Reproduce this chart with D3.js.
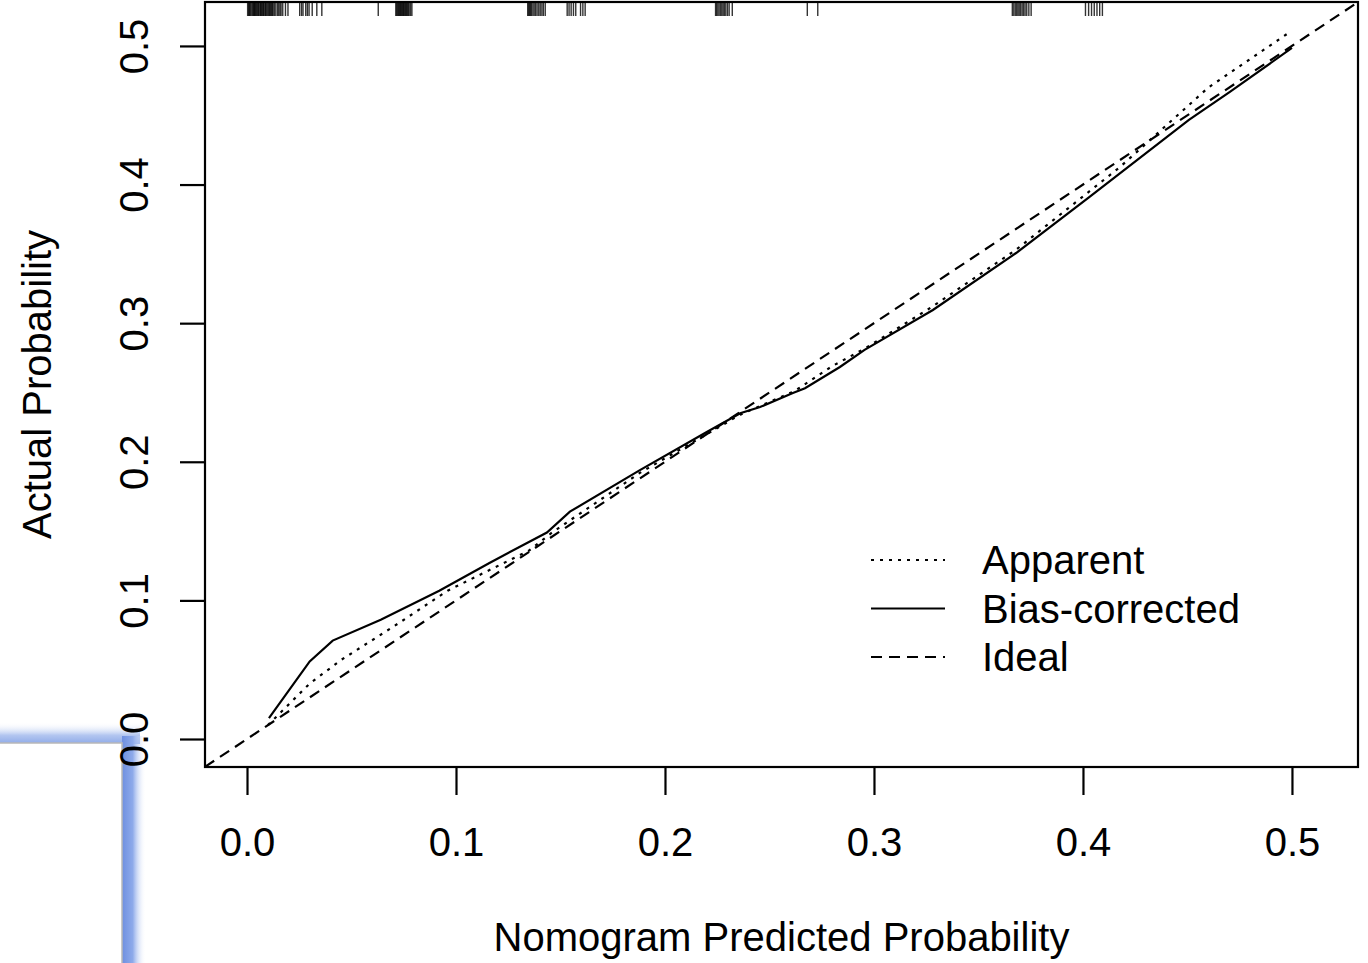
<!DOCTYPE html>
<html>
<head>
<meta charset="utf-8">
<script src="https://cdn.jsdelivr.net/npm/d3@7"></script>
<style>
    html, body { margin: 0; padding: 0; background: #fff; }
    svg { display: block; }
    text { font-family: "Liberation Sans", Arial, sans-serif; fill: #000; }
</style>
</head>
<body>
<div id="root"></div>
<script>
const WIDTH = 1368;
const HEIGHT = 963;
const box = { left: 205, right: 1358, top: 2, bottom: 767 };

// calibration curves: [predicted, actual]
const apparent = [
    [0.010, 0.010], [0.030, 0.040], [0.045, 0.057], [0.070, 0.081], [0.096, 0.107],
    [0.135, 0.136], [0.146, 0.149], [0.188, 0.192], [0.236, 0.234], [0.262, 0.251],
    [0.280, 0.269], [0.296, 0.282], [0.328, 0.312], [0.368, 0.353], [0.418, 0.413],
    [0.460, 0.470], [0.498, 0.509]
];
const biasCorrected = [
    [0.0105, 0.015], [0.030, 0.056], [0.041, 0.071], [0.064, 0.086], [0.092, 0.107],
    [0.116, 0.127], [0.1435, 0.149], [0.1545, 0.164], [0.188, 0.194], [0.220, 0.2215],
    [0.236, 0.235], [0.2455, 0.2395], [0.2612, 0.2496], [0.267, 0.253], [0.2837, 0.2684],
    [0.2955, 0.2807], [0.3282, 0.3095], [0.368, 0.3506], [0.403, 0.391], [0.4507, 0.4466],
    [0.4703, 0.4668], [0.500, 0.4986]
];
// predicted probabilities shown as the rug along the top
const rugValues = [
    0.0003, 0.0008, 0.0011, 0.0015, 0.0019, 0.0024, 0.0028, 0.0032, 0.0035, 0.0038,
    0.0042, 0.0045, 0.0051, 0.0054, 0.0058, 0.0063, 0.0066, 0.0069, 0.0074, 0.0078,
    0.0081, 0.0086, 0.0089, 0.0093, 0.0099, 0.0104, 0.0108, 0.0112, 0.0117, 0.0121,
    0.0125, 0.0131, 0.0138, 0.0146, 0.0152, 0.0158, 0.0163, 0.0171, 0.0184, 0.0196,
    0.0252, 0.0261, 0.0268, 0.0281, 0.0289, 0.0297, 0.0312, 0.0334, 0.0358,
    0.0628,
    0.0712, 0.0716, 0.0721, 0.0725, 0.0729, 0.0733, 0.0736, 0.0740, 0.0744, 0.0748,
    0.0751, 0.0755, 0.0759, 0.0763, 0.0767, 0.0772, 0.0776, 0.0783, 0.0789,
    0.1343, 0.1348, 0.1352, 0.1357, 0.1361, 0.1368, 0.1374, 0.1381, 0.1388, 0.1396,
    0.1403, 0.1411, 0.1418, 0.1427,
    0.1532, 0.1541, 0.1551, 0.1562, 0.1573, 0.1596, 0.1607, 0.1618,
    0.2242, 0.2247, 0.2253, 0.2259, 0.2266, 0.2272, 0.2278, 0.2284, 0.2291, 0.2299,
    0.2307, 0.2322,
    0.2681, 0.2731,
    0.3662, 0.3669, 0.3676, 0.3683, 0.3689, 0.3695, 0.3702, 0.3709, 0.3716, 0.3723,
    0.3731, 0.3741, 0.3752,
    0.4012, 0.4027, 0.4041, 0.4054, 0.4067, 0.4080, 0.4093
];
const ticks = [0.0, 0.1, 0.2, 0.3, 0.4, 0.5];
const legendLabels = ['Apparent', 'Bias-corrected', 'Ideal'];
const xTitle = 'Nomogram Predicted Probability';
const yTitle = 'Actual Probability';

const x = d3.scaleLinear().domain([-0.0201, 0.5316]).range([box.left, box.right]);
const y = d3.scaleLinear().domain([-0.0202, 0.5317]).range([box.bottom, box.top]);
const fmt = d3.format('.1f');

const svg = d3.select('#root').append('svg')
    .attr('width', WIDTH)
    .attr('height', HEIGHT);

const defs = svg.append('defs');
defs.append('clipPath').attr('id', 'plotClip')
    .append('rect')
    .attr('x', box.left).attr('y', box.top)
    .attr('width', box.right - box.left).attr('height', box.bottom - box.top);

const styles = {
    'Apparent': { dash: '3,6' },
    'Bias-corrected': { dash: null },
    'Ideal': { dash: '11,7' }
};

// window frame overlapping the lower-left corner of the picture (drawn first, text sits on it)
const gTop = defs.append('linearGradient').attr('id', 'fadeTop')
    .attr('x1', 0).attr('y1', 0).attr('x2', 0).attr('y2', 1);
gTop.append('stop').attr('offset', '0%').attr('stop-color', '#ffffff').attr('stop-opacity', 0);
gTop.append('stop').attr('offset', '60%').attr('stop-color', '#b3c6f0');
gTop.append('stop').attr('offset', '100%').attr('stop-color', '#8eaae8');
const gRight = defs.append('linearGradient').attr('id', 'fadeRight')
    .attr('x1', 0).attr('y1', 0).attr('x2', 1).attr('y2', 0);
gRight.append('stop').attr('offset', '0%').attr('stop-color', '#6e8fe0');
gRight.append('stop').attr('offset', '45%').attr('stop-color', '#8eaaea');
gRight.append('stop').attr('offset', '100%').attr('stop-color', '#ffffff').attr('stop-opacity', 0);

const frame = svg.append('g');
frame.append('rect')
    .attr('x', 0).attr('y', 722).attr('width', 140).attr('height', 22)
    .attr('fill', 'url(#fadeTop)');
frame.append('rect')
    .attr('x', 122).attr('y', 736).attr('width', 24).attr('height', HEIGHT - 736)
    .attr('fill', 'url(#fadeRight)');
frame.append('rect')
    .attr('x', -2).attr('y', 743).attr('width', 124).attr('height', HEIGHT - 741)
    .attr('fill', '#fff').attr('stroke', '#b8b8b8').attr('stroke-width', 1.5);

const plot = svg.append('g').attr('clip-path', 'url(#plotClip)');

// ideal diagonal across the whole box
plot.append('line')
    .attr('x1', x(x.domain()[0])).attr('y1', y(x.domain()[0]))
    .attr('x2', x(x.domain()[1])).attr('y2', y(x.domain()[1]))
    .attr('stroke', '#000').attr('stroke-width', 2.2)
    .attr('stroke-dasharray', styles['Ideal'].dash);

const line = d3.line().x(d => x(d[0])).y(d => y(d[1]));

plot.append('path')
    .datum(apparent)
    .attr('d', line)
    .attr('fill', 'none').attr('stroke', '#000').attr('stroke-width', 2.2)
    .attr('stroke-dasharray', styles['Apparent'].dash);

plot.append('path')
    .datum(biasCorrected)
    .attr('d', line)
    .attr('fill', 'none').attr('stroke', '#000').attr('stroke-width', 2.2);

// rug at the top
plot.selectAll('.rug')
    .data(rugValues)
.enter().append('line')
    .attr('class', 'rug')
    .attr('x1', d => x(d)).attr('x2', d => x(d))
    .attr('y1', box.top).attr('y2', box.top + 14)
    .attr('stroke', '#000').attr('stroke-width', 1.4)
    .attr('stroke-opacity', 0.8);

// frame
svg.append('rect')
    .attr('x', box.left).attr('y', box.top)
    .attr('width', box.right - box.left).attr('height', box.bottom - box.top)
    .attr('fill', 'none').attr('stroke', '#000').attr('stroke-width', 2.2);

// x axis
const xAxis = d3.axisBottom(x).tickValues(ticks).tickSize(28).tickFormat(fmt).tickPadding(0);
const gx = svg.append('g')
    .attr('transform', `translate(0, ${box.bottom})`)
    .call(xAxis);
gx.select('.domain').remove();
gx.selectAll('.tick line').attr('stroke', '#000').attr('stroke-width', 2.2);
gx.selectAll('.tick text')
    .attr('y', 89).attr('dy', null)
    .style('font-size', '40px')
    .style('font-family', '"Liberation Sans", Arial, sans-serif')
    .attr('fill', '#000');

// y axis
const yAxis = d3.axisLeft(y).tickValues(ticks).tickSize(25).tickFormat(fmt);
const gy = svg.append('g')
    .attr('transform', `translate(${box.left}, 0)`)
    .call(yAxis);
gy.select('.domain').remove();
gy.selectAll('.tick line').attr('stroke', '#000').attr('stroke-width', 2.2);
gy.selectAll('.tick text')
    .attr('x', null).attr('dy', null)
    .attr('transform', 'translate(-57, 0) rotate(-90)')
    .attr('text-anchor', 'middle')
    .style('font-size', '40px')
    .style('font-family', '"Liberation Sans", Arial, sans-serif')
    .attr('fill', '#000');

svg.append('text')
    .attr('x', (box.left + box.right) / 2)
    .attr('y', 951)
    .attr('text-anchor', 'middle')
    .style('font-size', '40px')
    .text(xTitle);

svg.append('text')
    .attr('transform', `translate(51, ${(box.top + box.bottom) / 2}) rotate(-90)`)
    .attr('text-anchor', 'middle')
    .style('font-size', '40px')
    .text(yTitle);

// legend
const legend = svg.selectAll('.legend')
    .data(legendLabels)
.enter().append('g')
    .attr('class', 'legend')
    .attr('transform', (d, i) => `translate(871, ${560 + i * 48.5})`);

legend.append('line')
    .attr('x1', 0).attr('x2', 74)
    .attr('stroke', '#000').attr('stroke-width', 2.2)
    .attr('stroke-dasharray', d => styles[d].dash);

legend.append('text')
    .attr('x', 111)
    .attr('y', 14)
    .style('font-size', '40px')
    .text(d => d);
</script>
</body>
</html>
